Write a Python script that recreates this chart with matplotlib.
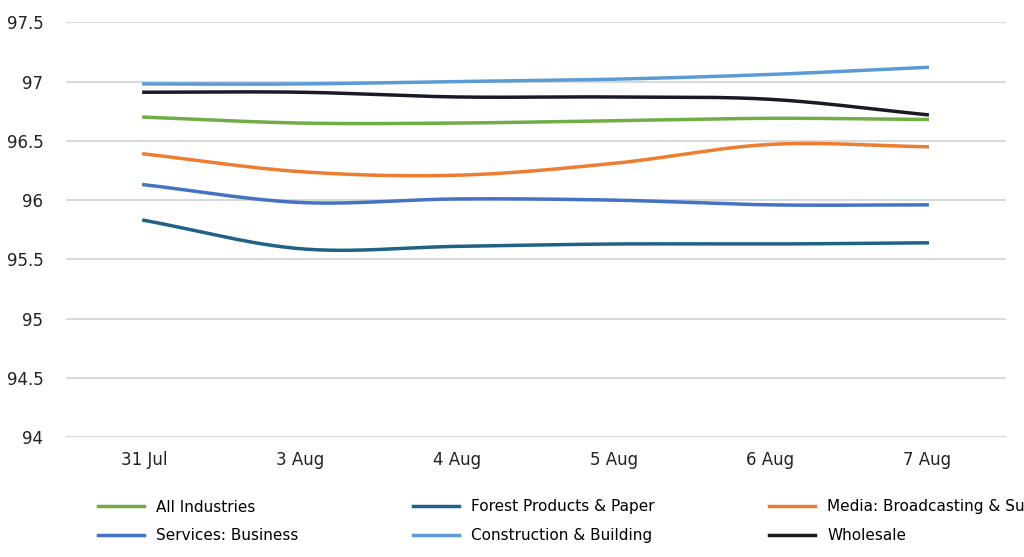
import matplotlib
matplotlib.use('Agg')
import matplotlib.pyplot as plt
import numpy as np
from matplotlib.ticker import FuncFormatter

dates = ['31 Jul', '3 Aug', '4 Aug', '5 Aug', '6 Aug', '7 Aug']
all_ind = [96.70, 96.65, 96.65, 96.67, 96.69, 96.68]
forest = [95.83, 95.59, 95.61, 95.63, 95.63, 95.64]
media = [96.39, 96.24, 96.21, 96.31, 96.47, 96.45]
services = [96.13, 95.98, 96.01, 96.00, 95.96, 95.96]
construction = [96.98, 96.98, 97.00, 97.02, 97.06, 97.12]
wholesale = [96.91, 96.91, 96.87, 96.87, 96.85, 96.72]

series = [
    ('All Industries', all_ind, '#70ad47'),
    ('Forest Products & Paper', forest, '#1f6285'),
    ('Media: Broadcasting & Subscription', media, '#ed7d31'),
    ('Services: Business', services, '#4472c4'),
    ('Construction & Building', construction, '#5b9bd5'),
    ('Wholesale', wholesale, '#1a1a26'),
]


def smooth(y, n=30):
    # Catmull-Rom style curve, like Excel's smoothed lines
    y = np.asarray(y, float)
    x = np.arange(len(y))
    m = np.gradient(y)
    xs, ys = [], []
    for i in range(len(y) - 1):
        t = np.linspace(0, 1, n)
        h00 = 2*t**3 - 3*t**2 + 1
        h10 = t**3 - 2*t**2 + t
        h01 = -2*t**3 + 3*t**2
        h11 = t**3 - t**2
        xs.append(x[i] + t)
        ys.append(h00*y[i] + h10*m[i] + h01*y[i+1] + h11*m[i+1])
    return np.concatenate(xs), np.concatenate(ys)


fig = plt.figure(figsize=(10.24, 5.57), dpi=100)
ax = fig.add_axes([0.064, 0.215, 0.918, 0.745])

lines = []
for name, vals, color in series:
    xs, ys = smooth(vals)
    ln, = ax.plot(xs, ys, color=color, lw=2.5, label=name)
    lines.append(ln)

ax.set_xlim(-0.5, len(dates) - 0.5)
ax.set_ylim(94, 97.5)
ax.set_yticks(np.arange(94, 97.51, 0.5))
ax.yaxis.set_major_formatter(FuncFormatter(lambda v, p: f'{v:g}'))
ax.set_xticks(range(len(dates)))
ax.set_xticklabels(dates)
ax.grid(axis='y', color='#d9d9d9', lw=1.5)
ax.set_axisbelow(True)
for s in ax.spines.values():
    s.set_visible(False)
ax.tick_params(length=0, labelsize=12, colors='#222222')
ax.tick_params(axis='x', pad=10)
ax.tick_params(axis='y', pad=16)

# row-major order for a column-filling legend
order = [0, 3, 1, 4, 2, 5]
fig.legend([lines[i] for i in order], [series[i][0] for i in order],
           loc='lower left', bbox_to_anchor=(0.082, 0.0), ncol=3, frameon=False,
           fontsize=11, handlelength=3, columnspacing=7.5, labelspacing=0.9)

fig.savefig('out.png', dpi=100)
